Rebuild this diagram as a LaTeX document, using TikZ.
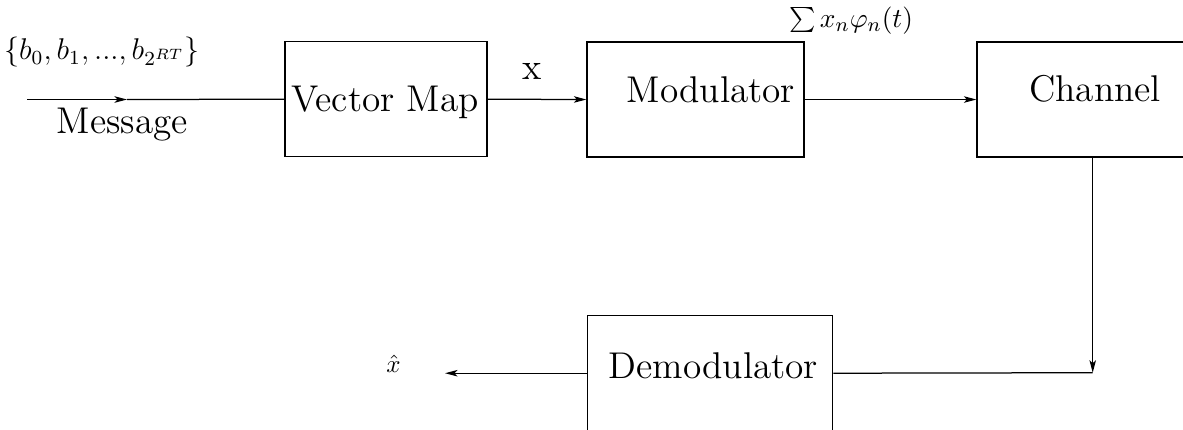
\documentclass[tikz,border=0pt]{standalone}
\usepackage{fontspec}
\usetikzlibrary{arrows.meta}
\begin{document}
\begin{tikzpicture}[x=0.4pt,y=-0.4pt,
  line width=0.5pt,
  blk/.style={draw, line width=0.5pt, rectangle, inner sep=0pt, minimum height=46pt},
  lbl/.style={font=\fontsize{14.9}{18}\selectfont, inner sep=0pt},
  flow/.style={-{Stealth[length=5pt,width=2.6pt,inset=1.2pt]}},
]
\useasboundingbox (0,0) rectangle (1183,429);

% blocks
\node[blk, minimum width=80.8pt] (vmap) at (386,99.2) {};
\node[blk, minimum width=86.8pt] (mod) at (695.5,99.5) {};
\node[blk, minimum width=94.4pt] (chan) at (1095,99.5) {};
\node[blk, minimum width=98pt] (demod) at (710.2,373.2) {};

% block captions
\node[lbl, anchor=base] (tvmap) at (385,111.7) {Vector Map};
\node[lbl, anchor=base] (tmod) at (711,102) {Modulator};
\node[lbl, anchor=base] (tchan) at (1095,101) {Channel};
\node[lbl, anchor=base] (tdemod) at (713.5,378) {Demodulator};

% input side
\coordinate (src) at (27,99.5);
\coordinate (mid) at (127,99.5);
\node[lbl, anchor=base] (msg) at (122.5,133) {Message};
\node[font=\fontsize{11.6}{14}\selectfont, inner sep=0pt] (bits) at (102,52) {$\{b_0,b_1,...,b_{2^{RT}}\}$};
\node[lbl] (xlab) at (532,71) {x};
\node[font=\fontsize{11.4}{14}\selectfont, inner sep=0pt, anchor=base] (sumlab) at (851,27) {$\sum x_n\varphi_n(t)$};

% output side
\coordinate (turn) at (1092.7,372.7);
\coordinate (out) at (445,373.2);
\node[inner sep=0pt, anchor=base] (xhat) at (393.5,372.7) {$\hat{x}$};

% connectors
\draw[flow] (src) -- (mid);
\draw (mid) -- (vmap.west);
\draw[flow] (vmap.east) -- (mod.west);
\draw[flow] (mod.east) -- (chan.west);
\draw[flow] (chan.south -| turn) -- (turn);
\draw (turn) -- (demod.east);
\draw[flow] (demod.west) -- (out);
\end{tikzpicture}
\end{document}
